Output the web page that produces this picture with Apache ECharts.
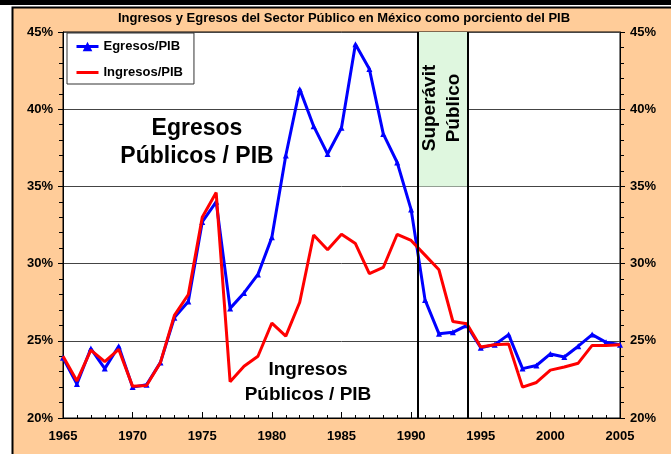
<!DOCTYPE html>
<html>
<head>
<meta charset="utf-8">
<script src="https://cdn.jsdelivr.net/npm/echarts@6/dist/echarts.min.js"></script>
<style>
  html, body { margin: 0; padding: 0; background: #fff; }
  #main { width: 671px; height: 454px; }
</style>
</head>
<body>
<div id="main"></div>
<script>
// datos (% del PIB)
var years = [1965, 1966, 1967, 1968, 1969, 1970, 1971, 1972, 1973, 1974,
  1975, 1976, 1977, 1978, 1979, 1980, 1981, 1982, 1983, 1984,
  1985, 1986, 1987, 1988, 1989, 1990, 1991, 1992, 1993, 1994,
  1995, 1996, 1997, 1998, 1999, 2000, 2001, 2002, 2003, 2004, 2005];
var egresos = [23.9, 22.2, 24.5, 23.2, 24.65, 22.0, 22.15, 23.6, 26.5, 27.55,
  32.7, 34.0, 27.1, 28.1, 29.3, 31.7, 37.0, 41.3, 38.9, 37.1,
  38.8, 44.2, 42.6, 38.4, 36.55, 33.5, 27.65, 25.45, 25.55, 26.0,
  24.55, 24.75, 25.4, 23.2, 23.4, 24.15, 23.95, 24.65, 25.4, 24.9, 24.75];
var ingresos = [24.0, 22.4, 24.4, 23.65, 24.45, 22.05, 22.1, 23.6, 26.65, 28.0,
  33.0, 34.6, 22.35, 23.35, 24.0, 26.15, 25.3, 27.5, 31.85, 30.9,
  31.9, 31.3, 29.35, 29.75, 31.9, 31.5, 30.55, 29.6, 26.25, 26.1,
  24.6, 24.75, 24.8, 22.0, 22.3, 23.1, 23.3, 23.55, 24.7, 24.7, 24.75];
// periodo de superavit
var superavit = [1990.44, 1994.04];
var superavitRango = [35, 45];

var chartDom = document.getElementById('main');
var myChart = echarts.init(chartDom, null, { renderer: 'canvas' });
var font = 'Liberation Sans, Arial, sans-serif';

function pares(vals) {
  return years.map(function (y, i) { return [y, vals[i]]; });
}

var yAxisBase = {
  type: 'value',
  min: 20,
  max: 45,
  interval: 5,
  axisLine: { show: true, lineStyle: { color: '#000', width: 1 } },
  axisTick: { show: true, inside: false, length: 5, lineStyle: { color: '#000' } },
  minorTick: { show: true, splitNumber: 5, length: 4, lineStyle: { color: '#000' } },
  axisLabel: { formatter: '{value}%', color: '#000', fontFamily: font, fontWeight: 'bold', fontSize: 13, margin: 10 }
};

var option = {
  animation: false,
  backgroundColor: '#fff',
  graphic: [
    { type: 'rect', z: -10, shape: { x: 0, y: 0, width: 671, height: 5 }, style: { fill: '#000' } },
    { type: 'rect', z: -10, shape: { x: 12.5, y: 7.5, width: 670, height: 460 }, style: { fill: '#FFCC99', stroke: '#000', lineWidth: 2 } },
    { type: 'text', x: 344, y: 18, style: { text: 'Ingresos y Egresos del Sector Público en México como porciento del PIB', font: 'bold 13px ' + font, fill: '#000', textAlign: 'center', textVerticalAlign: 'middle' } },
    { type: 'text', x: 197, y: 129, z: 10, style: { text: 'Egresos', font: 'bold 23px ' + font, fill: '#000', textAlign: 'center', textVerticalAlign: 'middle' } },
    { type: 'text', x: 197, y: 157, z: 10, style: { text: 'Públicos / PIB', font: 'bold 23px ' + font, fill: '#000', textAlign: 'center', textVerticalAlign: 'middle' } },
    { type: 'text', x: 308, y: 370, z: 10, style: { text: 'Ingresos', font: 'bold 19px ' + font, fill: '#000', textAlign: 'center', textVerticalAlign: 'middle' } },
    { type: 'text', x: 308, y: 395, z: 10, style: { text: 'Públicos / PIB', font: 'bold 19px ' + font, fill: '#000', textAlign: 'center', textVerticalAlign: 'middle' } },
    { type: 'text', x: 430, y: 108, rotation: Math.PI / 2, z: 10, style: { text: 'Superávit', font: 'bold 19px ' + font, fill: '#000', textAlign: 'center', textVerticalAlign: 'middle' } },
    { type: 'text', x: 454, y: 108, rotation: Math.PI / 2, z: 10, style: { text: 'Público', font: 'bold 19px ' + font, fill: '#000', textAlign: 'center', textVerticalAlign: 'middle' } }
  ],
  legend: {
    data: [
      { name: 'Egresos/PIB' },
      { name: 'Ingresos/PIB', itemStyle: { opacity: 0 } }
    ],
    orient: 'vertical',
    left: 67,
    top: 33,
    padding: [7, 11, 5, 8],
    itemWidth: 22,
    itemHeight: 12,
    itemGap: 13,
    backgroundColor: '#fff',
    borderColor: '#333',
    borderWidth: 1,
    lineStyle: { width: 3 },
    textStyle: { color: '#000', fontFamily: font, fontWeight: 'bold', fontSize: 13 }
  },
  grid: {
    left: 63,
    right: 51,
    top: 32,
    bottom: 36,
    show: true,
    backgroundColor: '#fff',
    borderColor: '#000',
    borderWidth: 1,
    outerBoundsMode: 'none'
  },
  xAxis: {
    type: 'value',
    min: 1965,
    max: 2005,
    interval: 5,
    axisLine: { onZero: false, lineStyle: { color: '#000', width: 1 } },
    axisTick: { show: true, inside: true, length: 6, lineStyle: { color: '#000' } },
    minorTick: { show: true, splitNumber: 5, length: 3, lineStyle: { color: '#000' } },
    splitLine: { show: false },
    axisLabel: {
      color: '#000', fontFamily: font, fontWeight: 'bold', fontSize: 13, margin: 12,
      formatter: function (v) { return String(v); }
    }
  },
  yAxis: [
    Object.assign({}, yAxisBase, {
      position: 'left',
      splitLine: { show: true, lineStyle: { color: '#444', width: 1 } }
    }),
    Object.assign({}, yAxisBase, {
      position: 'right',
      splitLine: { show: false }
    })
  ],
  series: [
    {
      name: 'Egresos/PIB',
      type: 'line',
      data: pares(egresos),
      color: '#0000FF',
      symbol: 'triangle',
      symbolSize: 6,
      showSymbol: true,
      lineStyle: { width: 3 },
      z: 3,
      markArea: {
        silent: true,
        itemStyle: { color: '#dff7df' },
        data: [[{ xAxis: superavit[0], yAxis: superavitRango[0] }, { xAxis: superavit[1], yAxis: superavitRango[1] }]]
      },
      markLine: {
        silent: true,
        symbol: ['none', 'none'],
        label: { show: false },
        lineStyle: { color: '#000', width: 2, type: 'solid' },
        data: [{ xAxis: superavit[0] }, { xAxis: superavit[1] }]
      }
    },
    {
      name: 'Ingresos/PIB',
      type: 'line',
      data: pares(ingresos),
      color: '#FF0000',
      symbol: 'none',
      showSymbol: false,
      lineStyle: { width: 3 },
      z: 4
    }
  ]
};

option && myChart.setOption(option);
</script>
</body>
</html>
